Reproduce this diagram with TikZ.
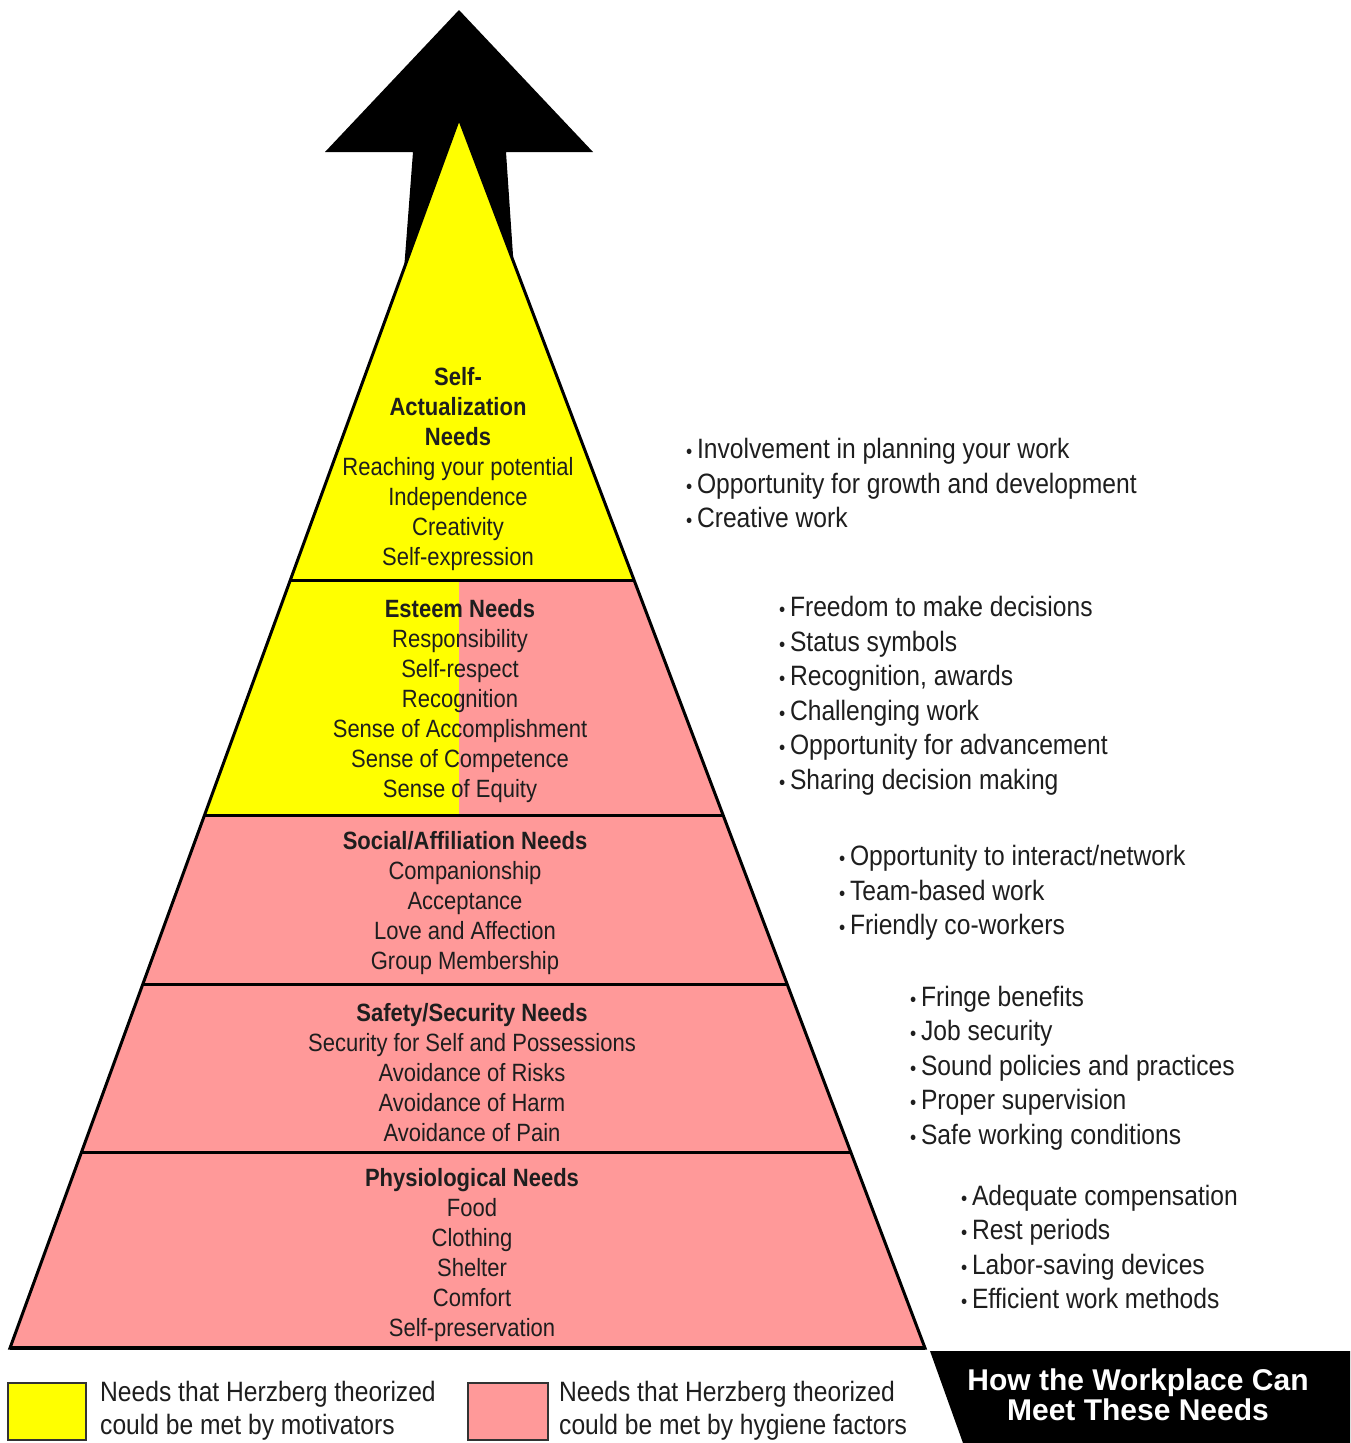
\documentclass[tikz,border=0pt]{standalone}
\usepackage{fontspec}
\setmainfont[FakeStretch=0.88]{Liberation Sans}
\newfontfamily\widesans{Liberation Sans}
\definecolor{pyYellow}{RGB}{255,255,0}
\definecolor{pyPink}{RGB}{255,153,153}
\definecolor{txtDark}{RGB}{30,30,30}
\newcommand{\bul}{{\fontsize{20}{20}\selectfont•}\,}
\begin{document}
\begin{tikzpicture}[x=1pt,y=-1pt,
  bandtext/.style={align=center,text=txtDark,font=\fontsize{25}{30}\selectfont,inner sep=0pt},
  listtext/.style={align=left,anchor=west,text=txtDark,font=\fontsize{28}{34.5}\selectfont,inner sep=0pt},
  legtext/.style={align=left,anchor=west,text=txtDark,font=\fontsize{28}{33}\selectfont,inner sep=0pt},
  legbox/.style={draw=black!80,line width=1.5pt},
  edge/.style={draw=black,line width=3pt,line join=miter},
  divider/.style={draw=black,line width=3pt}]
\useasboundingbox (0,0) rectangle (1350,1443);
\fill[white] (0,0) rectangle (1350,1443);
% arrow behind the pyramid
\fill[black] (459,10) -- (593,152) -- (506,152) -- (514,270) -- (404,270) -- (413,152) -- (325,152) -- cycle;
% coordinates of the pyramid
\coordinate (apex) at (459,118);
\coordinate (l1) at (290.4,580); \coordinate (r1) at (634.0,580);
\coordinate (l2) at (204.6,815); \coordinate (r2) at (723.1,815);
\coordinate (l3) at (142.9,984); \coordinate (r3) at (787.1,984);
\coordinate (l4) at (81.6,1152); \coordinate (r4) at (850.7,1152);
\coordinate (l5) at (10,1348);   \coordinate (r5) at (925,1348);
\coordinate (m1) at (459,580); \coordinate (m2) at (459,815);
% fills
\fill[pyYellow] (apex) -- (r1) -- (l1) -- cycle;
\fill[pyYellow] (l1) -- (m1) -- (m2) -- (l2) -- cycle;
\fill[pyPink] (m1) -- (r1) -- (r2) -- (m2) -- cycle;
\fill[pyPink] (l2) -- (r2) -- (r5) -- (l5) -- cycle;
% outline and dividers
\draw[edge] (apex) -- (r5) -- (l5) -- cycle;
\draw[divider] (l1) -- (r1);
\draw[divider] (l2) -- (r2);
\draw[divider] (l3) -- (r3);
\draw[divider] (l4) -- (r4);
\draw[black,line width=4.5pt] (l5) -- (r5);
% band texts
\node[bandtext] (self) at (458,469) {\textbf{Self-}\\\textbf{Actualization}\\\textbf{Needs}\\Reaching your potential\\Independence\\Creativity\\Self-expression};
\node[bandtext] (esteem) at (460,701) {\textbf{Esteem Needs}\\Responsibility\\Self-respect\\Recognition\\Sense of Accomplishment\\Sense of Competence\\Sense of Equity};
\node[bandtext] (social) at (465,903) {\textbf{Social/Affiliation Needs}\\Companionship\\Acceptance\\Love and Affection\\Group Membership};
\node[bandtext] (safety) at (472,1073) {\textbf{Safety/Security Needs}\\Security for Self and Possessions\\Avoidance of Risks\\Avoidance of Harm\\Avoidance of Pain};
\node[bandtext] (physio) at (472,1255) {\textbf{Physiological Needs}\\Food\\Clothing\\Shelter\\Comfort\\Self-preservation};
% right side lists
\node[listtext] (list1) at (686,483) {\bul Involvement in planning your work\\\bul Opportunity for growth and development\\\bul Creative work};
\node[listtext] (list2) at (779,696) {\bul Freedom to make decisions\\\bul Status symbols\\\bul Recognition, awards\\\bul Challenging work\\\bul Opportunity for advancement\\\bul Sharing decision making};
\node[listtext] (list3) at (839,893) {\bul Opportunity to interact/network\\\bul Team-based work\\\bul Friendly co-workers};
\node[listtext] (list4) at (910,1068) {\bul Fringe benefits\\\bul Job security\\\bul Sound policies and practices\\\bul Proper supervision\\\bul Safe working conditions};
\node[listtext] (list5) at (961,1247) {\bul Adequate compensation\\\bul Rest periods\\\bul Labor-saving devices\\\bul Efficient work methods};
% legend
\draw[legbox,fill=pyYellow] (8,1383) rectangle (86,1440);
\node[legtext] (leg1) at (100,1411) {Needs that Herzberg theorized\\could be met by motivators};
\draw[legbox,fill=pyPink] (468,1383) rectangle (548,1440);
\node[legtext] (leg2) at (559,1411) {Needs that Herzberg theorized\\could be met by hygiene factors};
% black title box
\fill[black] (930,1351) -- (1350,1351) -- (1350,1443) -- (963,1443) -- cycle;
\node[align=center,text=white,font=\widesans\fontsize{30}{30}\selectfont\bfseries,inner sep=0pt] (title) at (1138,1395) {How the Workplace Can\\Meet These Needs};
\end{tikzpicture}
\end{document}
